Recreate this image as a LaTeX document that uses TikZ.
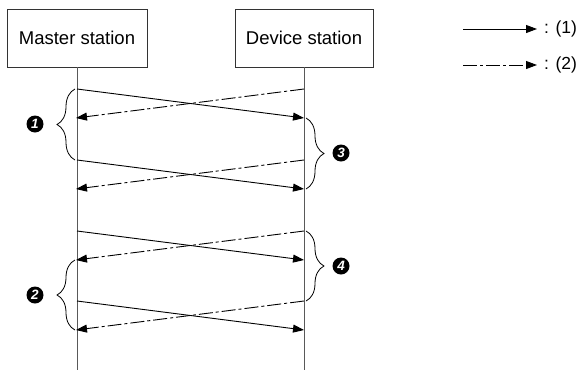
\documentclass[tikz,border=0pt]{standalone}
\usepackage{fontspec}
\setmainfont{Liberation Sans}
\usetikzlibrary{arrows.meta,decorations.pathreplacing}
\begin{document}
\begin{tikzpicture}[x=1pt,y=-1pt,
  stationbox/.style={draw=black!80,line width=0.8pt,minimum width=140pt,minimum height=58pt,inner sep=0pt,font=\fontsize{18.5}{22}\selectfont},
  life/.style={draw=black!65,line width=1pt},
  msg/.style={line width=0.9pt,-{Triangle[length=11pt,width=8pt]}},
  resp/.style={msg,dash pattern=on 14pt off 3pt on 3pt off 3pt},
  grp/.style={decorate,decoration={brace,amplitude=18pt},line width=0.8pt},
  num/.style={circle,fill=black,text=white,inner sep=0pt,minimum size=17pt,font=\fontsize{13.5}{14}\bfseries\itshape\selectfont},
  lab/.style={font=\fontsize{17.5}{20}\selectfont,anchor=west,inner sep=0pt}]
\useasboundingbox (0,0) rectangle (578,370);
\node[stationbox] (M) at (77,38) {Master station};
\node[stationbox,minimum width=138pt] (D) at (304,38) {Device station};
\coordinate (Mend) at (77,370);
\coordinate (Dend) at (304,370);
\draw[life] (M.south) -- (Mend);
\draw[life] (D.south) -- (Dend);
% message coordinates
\foreach \i/\ya/\yb in {1/89/118,2/160/189,3/231/260,4/301/330}{
  \coordinate (ms\i) at (77,\ya);
  \coordinate (de\i) at (304,\yb);
  \coordinate (ds\i) at (304,\ya);
  \coordinate (me\i) at (76,\yb);
}
\foreach \i in {1,2,3,4}{
  \draw[msg] (ms\i) -- (de\i);
  \draw[resp] (ds\i) -- (me\i);
}
% braces
\coordinate (b1a) at (75,160); \coordinate (b1b) at (75,89);
\coordinate (b2a) at (75,330); \coordinate (b2b) at (75,260);
\coordinate (b3a) at (306,118); \coordinate (b3b) at (306,189);
\coordinate (b4a) at (306,231); \coordinate (b4b) at (306,301);
\draw[grp] (b1a) -- (b1b);
\draw[grp] (b2a) -- (b2b);
\draw[grp] (b3a) -- (b3b);
\draw[grp] (b4a) -- (b4b);
\node[num] (n1) at (35,124) {1};
\node[num] (n2) at (35,295) {2};
\node[num] (n3) at (341,153) {3};
\node[num] (n4) at (341,266) {4};
% legend
\coordinate (l1a) at (463,29); \coordinate (l1b) at (537,29);
\coordinate (l2a) at (463,65); \coordinate (l2b) at (537,65);
\draw[msg] (l1a) -- (l1b);
\draw[resp] (l2a) -- (l2b);
\node[lab] (t1) at (544,29) {: (1)};
\node[lab] (t2) at (544,65) {: (2)};
\end{tikzpicture}
\end{document}
